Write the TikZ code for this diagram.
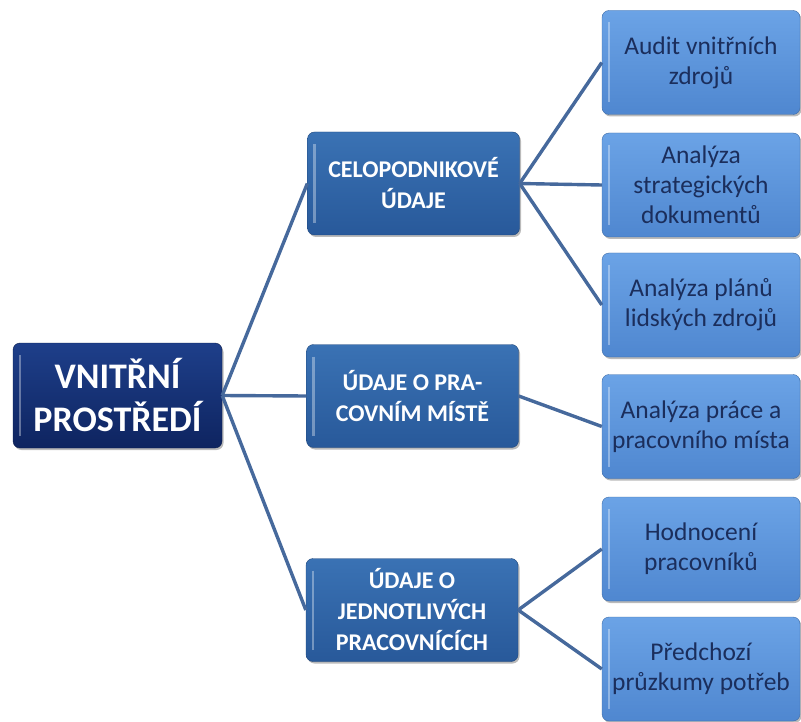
\documentclass[tikz,border=0pt]{standalone}
\usepackage{fontspec}
\setmainfont{Carlito}
\usetikzlibrary{shadows}
\definecolor{rootA}{HTML}{1E3F8A}
\definecolor{rootB}{HTML}{0E2460}
\definecolor{midA}{HTML}{3A72B4}
\definecolor{midB}{HTML}{28599A}
\definecolor{leafA}{HTML}{6BA3E6}
\definecolor{leafB}{HTML}{4F87D0}
\definecolor{leaftext}{HTML}{1B2E5C}
\definecolor{linkc}{HTML}{46699C}
\tikzset{
  x=1pt, y=-1pt,
  glossy/.style={rectangle, rounded corners=7pt, align=center, inner sep=2pt,
    drop shadow={shadow xshift=1.5pt, shadow yshift=-2pt, opacity=0.45, fill=black!60},
    path picture={\draw[white, opacity=0.35, line width=2.5pt]
      ([xshift=7pt,yshift=-12pt]path picture bounding box.north west) --
      ([xshift=7pt,yshift=12pt]path picture bounding box.south west);}},
  rootbox/.style={glossy, draw=rootB!80!black, top color=rootA, bottom color=rootB,
    minimum width=209pt, minimum height=105pt, text=white,
    font=\bfseries\fontsize{36}{43}\selectfont},
  midbox/.style={glossy, draw=midB!80!black, top color=midA, bottom color=midB,
    minimum width=212pt, minimum height=103pt, text=white,
    font=\bfseries\fontsize{24}{31}\selectfont},
  leafbox/.style={glossy, draw=leafB!80!black, top color=leafA, bottom color=leafB,
    minimum width=198pt, minimum height=104pt, text=leaftext,
    font=\fontsize{25.5}{30}\selectfont},
  link/.style={draw=linkc, line width=3.4pt}
}
\begin{document}
\begin{tikzpicture}
\useasboundingbox (0,0) rectangle (801,722);
\node[rootbox] (root) at (117.5,395.5) {VNITŘNÍ\\PROSTŘEDÍ};
\node[midbox] (m1) at (413.5,183.5) {CELOPODNIKOVÉ\\ÚDAJE};
\node[midbox] (m2) at (412.5,396) {ÚDAJE O PRA-\\COVNÍM MÍSTĚ};
\node[midbox] (m3) at (412,610) {ÚDAJE O\\JEDNOTLIVÝCH\\PRACOVNÍCÍCH};
\node[leafbox] (l1) at (701,62.5) {Audit vnitřních\\zdrojů};
\node[leafbox] (l2) at (701,185) {Analýza\\strategických\\dokumentů};
\node[leafbox] (l3) at (701,305) {Analýza plánů\\lidských zdrojů};
\node[leafbox] (l4) at (701,426.5) {Analýza práce a\\pracovního místa};
\node[leafbox] (l5) at (701,549) {Hodnocení\\pracovníků};
\node[leafbox] (l6) at (701,669) {Předchozí\\průzkumy potřeb};
\draw[link] (root.east) -- (m1.west);
\draw[link] (root.east) -- (m2.west);
\draw[link] (root.east) -- (m3.west);
\draw[link] (m1.east) -- (l1.west);
\draw[link] (m1.east) -- (l2.west);
\draw[link] (m1.east) -- (l3.west);
\draw[link] (m2.east) -- (l4.west);
\draw[link] (m3.east) -- (l5.west);
\draw[link] (m3.east) -- (l6.west);
\end{tikzpicture}
\end{document}
